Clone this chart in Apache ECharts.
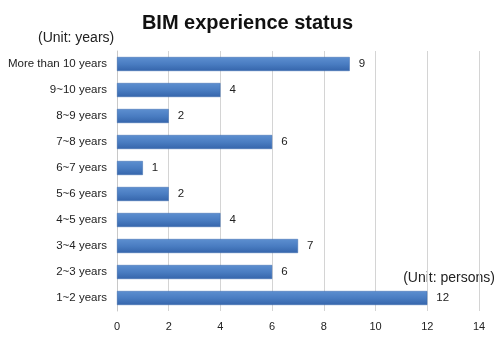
<!DOCTYPE html>
<html>
<head>
<meta charset="utf-8">
<script src="https://cdn.jsdelivr.net/npm/echarts@6/dist/echarts.min.js"></script>
<style>
  html, body { margin: 0; padding: 0; background: #fff; }
  #main { width: 495px; height: 337px; }
</style>
</head>
<body>
<div id="main"></div>
<script>
// categories top -> bottom as drawn
const categories = ['More than 10 years', '9~10 years', '8~9 years', '7~8 years', '6~7 years',
  '5~6 years', '4~5 years', '3~4 years', '2~3 years', '1~2 years'];
const persons = [9, 4, 2, 6, 1, 2, 4, 7, 6, 12];
const xTicks = [0, 2, 4, 6, 8, 10, 12, 14];

const chart = echarts.init(document.getElementById('main'), null, { renderer: 'canvas' });

const font = 'Liberation Sans, Arial, sans-serif';

chart.setOption({
  animation: false,
  title: {
    text: 'BIM experience status',
    left: 'center',
    top: 8,
    textStyle: { fontFamily: font, fontSize: 20, fontWeight: 'bold', color: '#111' }
  },
  graphic: [
    {
      type: 'text', left: 38, top: 31,
      style: { text: '(Unit: years)', font: '14px ' + font, fill: '#222' }
    },
    {
      type: 'text', right: 0, top: 271,
      style: { text: '(Unit: persons)', font: '14px ' + font, fill: '#222' }
    }
  ],
  grid: { left: 117, right: 16, top: 51, bottom: 26, containLabel: false },
  xAxis: {
    type: 'value',
    min: xTicks[0],
    max: xTicks[xTicks.length - 1],
    interval: 2,
    axisLine: { show: false },
    axisTick: { show: false },
    axisLabel: { fontFamily: font, fontSize: 11, color: '#222', margin: 10 },
    splitLine: { show: true, lineStyle: { color: '#d4d4d4', width: 1 } }
  },
  yAxis: {
    type: 'category',
    inverse: true,
    data: categories,
    axisLine: { show: true, lineStyle: { color: '#c8c8c8' } },
    axisTick: { show: false },
    axisLabel: { fontFamily: font, fontSize: 11.5, color: '#222', margin: 10 }
  },
  series: [{
    type: 'bar',
    data: persons,
    barWidth: 14,
    itemStyle: {
      color: new echarts.graphic.LinearGradient(0, 0, 0, 1, [
        { offset: 0, color: '#5d8fd0' },
        { offset: 0.5, color: '#4a7dc2' },
        { offset: 1, color: '#3565ab' }
      ]),
      borderColor: '#3a6aae',
      borderWidth: 0.5
    },
    label: {
      show: true,
      position: 'right',
      distance: 9,
      fontFamily: font,
      fontSize: 11.5,
      color: '#222'
    }
  }]
});
</script>
</body>
</html>
